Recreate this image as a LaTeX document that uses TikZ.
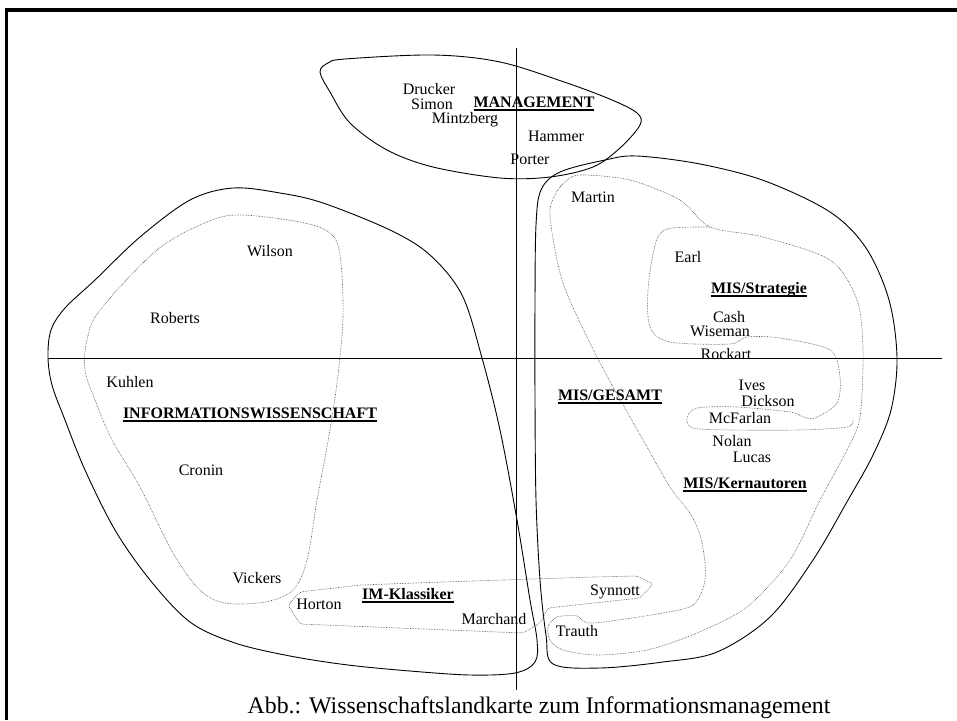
\documentclass[tikz,border=0pt]{standalone}
\usepackage{fontspec}
\setmainfont{Liberation Serif}
\newcommand{\fieldul}[1]{\setbox0=\hbox{#1}\rlap{\copy0}\rule[-3.8pt]{\wd0}{1.6pt}}

\begin{document}
\begin{tikzpicture}[x=1pt,y=-1pt,
    hull/.style={line width=0.9pt},
    cluster/.style={densely dotted,line width=0.6pt,black!75},
    person/.style={font=\fontsize{16}{18}\selectfont,inner sep=0pt,anchor=base},
    area/.style={person,font=\fontsize{16}{18}\selectfont\bfseries}]
  \useasboundingbox (0,0) rectangle (957,720);
  \draw[line width=3.4pt] (6.7,720) -- (6.7,10) -- (957,10);

  % axes
  \coordinate (ytop) at (516,48);
  \coordinate (ybot) at (516,690);
  \coordinate (xleft) at (48,358);
  \coordinate (xright) at (942,358);
  \draw[line width=0.8pt] (ytop) -- (ybot);
  \draw[line width=0.8pt] (xleft) -- (xright);

  % solid outlines
  \draw[hull] plot[smooth cycle,tension=0.55] coordinates {
    (320,72) (328,63) (345,59) (433,55) (500,62) (567,83) (612,100)
    (637,113) (640,125) (620,148) (593,167) (550,177) (500,178)
    (433,167) (387,150) (350,123) (330,92)};
  \draw[hull] plot[smooth cycle,tension=0.55] coordinates {
    (233,188) (280,193) (323,203) (390,230) (430,255) (462,295)
    (482,358) (500,430) (517,520) (530,600) (537,640) (535,662)
    (515,673) (470,675) (410,671) (348,665) (290,656) (235,643)
    (190,622) (150,580) (115,530) (85,470) (65,420) (52,385)
    (48,357) (51,330) (65,308) (95,280) (140,237) (190,200)};
  \draw[hull] plot[smooth cycle,tension=0.55] coordinates {
    (637,156) (700,164) (765,181) (830,212) (866,248) (889,300)
    (897,358) (891,410) (873,455) (848,500) (813,560) (770,617)
    (717,652) (663,662) (600,668) (553,664) (546,635) (540,580)
    (536,500) (535,400) (535,300) (536,225) (541,190) (560,172)
    (605,160)};

  % dotted clusters
  \draw[cluster] plot[smooth cycle,tension=0.55] coordinates {
    (240,215) (300,222) (330,233) (340,255) (343,317) (337,383)
    (327,447) (317,500) (307,560) (293,590) (265,602) (225,603)
    (200,590) (173,553) (140,487) (112,440) (95,400) (85,370)
    (87,340) (100,310) (157,250) (207,222)};
  \draw[cluster] plot[smooth cycle,tension=0.5] coordinates {
    (580,175) (630,180) (680,200) (710,227) (763,237) (830,260)
    (857,300) (863,350) (860,417) (847,450) (820,500) (790,560)
    (747,607) (697,633) (647,650) (597,655) (563,650) (550,640)
    (548,627) (557,617) (577,616) (592,623) (663,613) (693,605)
    (704,585) (705,563) (700,535) (690,513) (670,487) (647,447)
    (630,417) (597,357) (563,283) (550,217) (555,195) (565,182)};
  \draw[cluster] plot[smooth,tension=0.5] coordinates {
    (710,227) (667,229) (655,245) (648,290) (650,327) (670,342)
    (730,344) (747,337) (780,338) (830,350) (840,377) (837,403)
    (815,418) (803,417) (790,412) (737,407) (697,408) (687,418)
    (693,428) (730,430) (800,430) (847,427) (853,420)};
  \draw[cluster,rounded corners=3pt] (288,605) -- (300,592) -- (360,585)
    -- (443,582) -- (593,577) -- (637,576) -- (653,584) -- (640,598)
    -- (548,608) -- (540,623) -- (523,633) -- (300,624) -- cycle;

  % authors
  \node[person] (drucker) at (429,94) {Drucker};
  \node[person] (simon) at (432,109) {Simon};
  \node[person] (mintzberg) at (465,123) {Mintzberg};
  \node[person] (hammer) at (556,141) {Hammer};
  \node[person] (porter) at (530,164) {Porter};
  \node[person] (martin) at (593,202) {Martin};
  \node[person] (earl) at (688,262) {Earl};
  \node[person] (cash) at (729,322) {Cash};
  \node[person] (wiseman) at (720,336) {Wiseman};
  \node[person] (rockart) at (726,359) {Rockart};
  \node[person] (ives) at (752,390) {Ives};
  \node[person] (dickson) at (768,406) {Dickson};
  \node[person] (mcfarlan) at (740,423) {McFarlan};
  \node[person] (nolan) at (732,446) {Nolan};
  \node[person] (lucas) at (752,462) {Lucas};
  \node[person] (synnott) at (615,595) {Synnott};
  \node[person] (trauth) at (577,636) {Trauth};
  \node[person] (wilson) at (270,256) {Wilson};
  \node[person] (roberts) at (175,323) {Roberts};
  \node[person] (kuhlen) at (130,387) {Kuhlen};
  \node[person] (cronin) at (201,475) {Cronin};
  \node[person] (vickers) at (257,583) {Vickers};
  \node[person] (horton) at (319,609) {Horton};
  \node[person] (marchand) at (494,624) {Marchand};

  % fields
  \node[area] (management) at (534,107) {\fieldul{MANAGEMENT}};
  \node[area] (misstrategie) at (759,293) {\fieldul{MIS/Strategie}};
  \node[area] (misgesamt) at (610,400) {\fieldul{MIS/GESAMT}};
  \node[area] (miskern) at (745,488) {\fieldul{MIS/Kernautoren}};
  \node[area] (infowiss) at (250,418) {\fieldul{INFORMATIONSWISSENSCHAFT}};
  \node[area] (imklassiker) at (408,599) {\fieldul{IM-Klassiker}};

  \node[font=\fontsize{23.8}{26}\selectfont,inner sep=0pt,anchor=base] (caption)
    at (539,713) {Abb.: Wissenschaftslandkarte zum Informationsmanagement};
\end{tikzpicture}
\end{document}
